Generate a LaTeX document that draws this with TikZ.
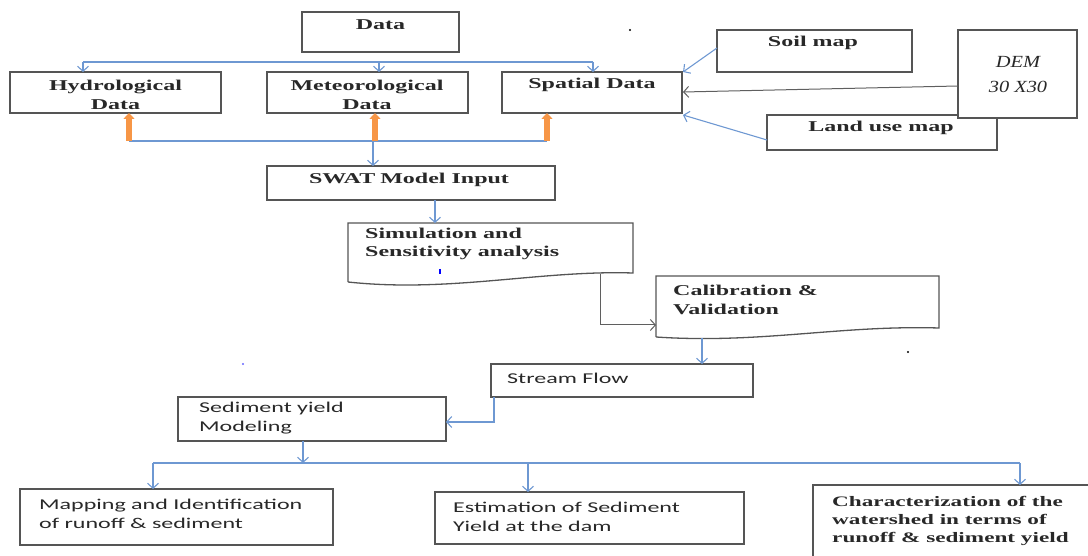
\documentclass[tikz,border=0pt]{standalone}
\usepackage{fontspec}
\usetikzlibrary{arrows.meta}
\newfontfamily\serw[FakeStretch=1.6]{Liberation Serif}
\newfontfamily\calw[FakeStretch=1.6]{Carlito}
\newfontfamily\demw[FakeStretch=1.2]{Liberation Serif}
\definecolor{conn}{RGB}{110,152,210}
\definecolor{gconn}{RGB}{95,95,95}
\definecolor{boxc}{RGB}{85,85,85}
\definecolor{orng}{RGB}{247,150,70}
\definecolor{txt}{RGB}{40,40,40}
\newcommand\bx[5]{\node[box, minimum width={#4-#2}, minimum height={#5-#3}] (#1) at ({(#2+#4)/2},{(#3+#5)/2}) {};}
\begin{document}
\begin{tikzpicture}[x=1pt,y=-1pt,
  box/.style={draw=boxc, line width=1.3pt, inner sep=0pt, outer sep=0pt},
  frame/.style={inner sep=0pt, outer sep=0pt},
  docline/.style={draw=boxc, line width=1.3pt, line join=miter},
  bconn/.style={draw=conn, line width=1.1pt, -{Straight Barb[length=5pt,width=11pt]}},
  bline/.style={draw=conn, line width=1.1pt},
  gconnarrow/.style={draw=gconn, line width=1pt, -{Straight Barb[length=5pt,width=11pt]}},
  oarrow/.style={draw=orng, line width=5.5pt, -{Triangle[length=6pt,width=11pt]}},
  sertext/.style={text=txt, inner sep=0pt, font=\serw\bfseries\fontsize{15}{19}\selectfont, align=center},
  caltext/.style={text=txt, inner sep=0pt, font=\calw\fontsize{15}{19}\selectfont, align=left, anchor=west},
  doctext/.style={text=txt, inner sep=0pt, font=\serw\bfseries\fontsize{15}{18.5}\selectfont, align=left, anchor=west},
]
\useasboundingbox (0,0) rectangle (1088,556);

% ---------- boxes ----------
\bx{data}{302}{12}{459}{52}
\bx{hyd}{10}{72}{221}{113}
\bx{met}{267}{72}{468}{113}
\bx{spa}{502}{72}{682}{113}
\bx{soil}{717}{30}{912}{72}
\bx{land}{767}{115}{997}{150}
\node[box, fill=white, minimum width=119pt, minimum height=88pt] (dem) at (1017.5,74) {};
\bx{swat}{267}{166}{555}{200}
\bx{stream}{491}{364}{753}{397}
\bx{sed}{178}{397}{446}{441}
\bx{map}{20}{489}{333}{545}
\bx{est}{435}{492}{744}{544}
\node[box, minimum width=290pt, minimum height=90pt] (cha) at (958,530) {};

% document shapes
\node[frame, minimum width=285pt, minimum height=60pt] (sim) at (490.5,253) {};
\draw[docline] (348,282) -- (sim.north west) -- (sim.north east) -- (633,273)
  .. controls (540,270) and (450,293) .. (348,282);
\node[frame, minimum width=283pt, minimum height=62pt] (cal) at (797.5,307) {};
\draw[docline] (656,337) -- (cal.north west) -- (cal.north east) -- (939,328)
  .. controls (840,325) and (760,344) .. (656,337);

% ---------- texts ----------
\node[sertext] (tdata) at (380.5,25) {Data};
\node[sertext] (thyd) at (115.5,94.5) {Hydrological\\Data};
\node[sertext] (tmet) at (367,94.5) {Meteorological\\Data};
\node[sertext] (tspa) at (592,85) {Spatial Data};
\node[sertext] (tsoil) at (813,43) {Soil map};
\node[sertext] (tland) at (881,128) {Land use map};
\node[text=txt, inner sep=0pt, font=\demw\itshape\fontsize{17}{25}\selectfont, align=center] (tdem) at (1018,74.5) {DEM\\30 X30};
\node[sertext] (tswat) at (409,180) {SWAT\,\,Model Input};
\node[doctext] (tsim) at (365,244) {Simulation and\\Sensitivity analysis};
\node[doctext] (tcal) at (673,300) {Calibration \&\\Validation};
\node[caltext] (tstream) at (507,378) {Stream Flow};
\node[caltext] (tsed) at (199,418) {Sediment yield\\Modeling};
\node[caltext] (tmap) at (39,513.5) {Mapping and Identification\\of runoff \& sediment};
\node[caltext] (test) at (453,516.5) {Estimation of Sediment\\Yield at the dam};
\node[doctext, font=\serw\bfseries\fontsize{14.5}{18}\selectfont] (tcha) at (832,521) {Characterization of the\\watershed in terms of\\runoff \& sediment yield};

% ---------- connectors ----------
% data distribution line
\coordinate (dl) at (83,62);
\coordinate (dm) at (379,62);
\coordinate (dr) at (593,62);
\draw[bline] (dl) -- (dr);
\draw[bconn] (dl) -- (hyd.north -| dl);
\draw[bconn] (dm) -- (met.north -| dm);
\draw[bconn] (dr) -- (spa.north -| dr);

% external spatial inputs
\coordinate (soilout) at (717,48);
\coordinate (spain1) at (683,72);
\coordinate (demout) at (958,86);
\coordinate (spain2) at (683,92);
\coordinate (landout) at (767,140);
\coordinate (spain3) at (683,115);
\draw[bconn] (soilout) -- (spain1);
\draw[gconnarrow] (demout) -- (spain2);
\draw[bconn] (landout) -- (spain3);

% orange arrows and collector line
\coordinate (o1) at (129,141);
\coordinate (o2) at (375,141);
\coordinate (o3) at (547,141);
\draw[bline] (o1) -- (o3);
\draw[oarrow] (o1) -- (hyd.south -| o1);
\draw[oarrow] (o2) -- (met.south -| o2);
\draw[oarrow] (o3) -- (spa.south -| o3);
\coordinate (sw) at (373,141);
\draw[bconn] (sw) -- (swat.north -| sw);

% SWAT -> Simulation
\coordinate (s1) at (435,200);
\draw[bconn] (s1) -- (sim.north -| s1);

% Simulation -> Calibration
\coordinate (simout) at (600,274.5);
\coordinate (calin) at (656,325);
\draw[gconnarrow] (simout) |- (calin);

% Calibration -> Stream Flow
\coordinate (calout) at (702,338.5);
\draw[bconn] (calout) -- (stream.north -| calout);

% Stream Flow -> Sediment
\coordinate (stout) at (494,397);
\coordinate (sedin) at (446,422);
\draw[bconn] (stout) |- (sedin);

% Sediment -> outputs
\coordinate (sdout) at (303,441);
\coordinate (bl) at (153,463);
\coordinate (bm) at (528,463);
\coordinate (br) at (1020,463);
\coordinate (bs) at (303,463);
\draw[bconn] (sdout) -- (bs);
\draw[bline] (bl) -- (br);
\draw[bconn] (bl) -- (map.north -| bl);
\draw[bconn] (bm) -- (est.north -| bm);
\draw[bconn] (br) -- (cha.north -| br);

% stray marks
\fill[black] (630,30) circle (1.2pt);
\fill[black] (908,352) circle (1.2pt);
\draw[blue, line width=1.2pt] (440,269) -- (440,274);
\fill[blue!60] (243,364) circle (1.1pt);
\end{tikzpicture}
\end{document}
